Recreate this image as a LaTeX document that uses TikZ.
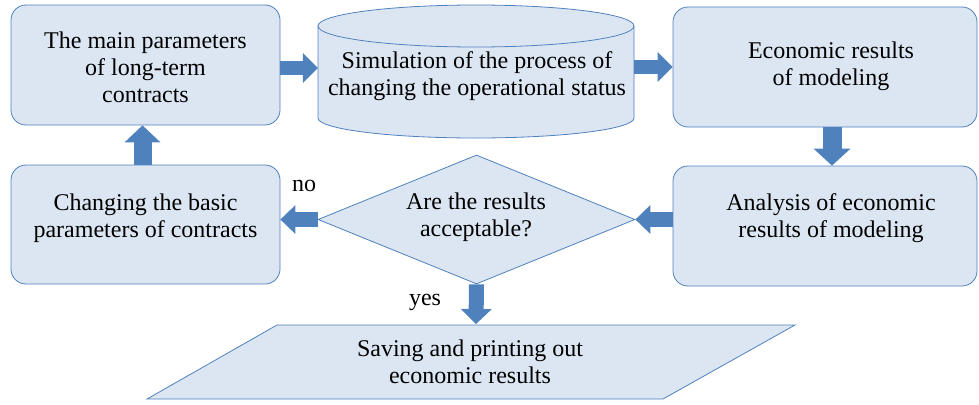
\documentclass[tikz,border=0pt]{standalone}
\usepackage{fontspec}
\setmainfont{Liberation Serif}
\usetikzlibrary{arrows.meta,calc,shapes.geometric}
\definecolor{boxfill}{HTML}{DCE6F2}
\definecolor{boxline}{HTML}{4F81BD}
\definecolor{arrowc}{HTML}{4F81BD}
\begin{document}
\begin{tikzpicture}[x=1pt,y=-1pt,
  box/.style={draw=boxline, fill=boxfill, rounded corners=15pt, line width=0.8pt, inner sep=0pt},
  txt/.style={align=center, font=\fontsize{24}{27}\selectfont, inner sep=0pt},
  blk/.style n args={3}{draw=arrowc, line width=#1, -{Triangle[width=#2,length=#3,line width=0pt]}}]
\useasboundingbox (0,0) rectangle (979,404);
% boxes
\node[box, minimum width=269pt, minimum height=120pt] (box1) at (145.5,65) {};
\node[txt] (t1) at (145.5,67) {The main parameters\\of long-term\\contracts};
\node[box, minimum width=304pt, minimum height=120pt] (box3) at (825,67) {};
\node[txt] (t3) at (831,66) {Economic results\\of modeling};
\node[box, minimum width=304pt, minimum height=120pt] (box4) at (825,226) {};
\node[txt] (t4) at (831,218) {Analysis of economic\\results of modeling};
\node[box, minimum width=269pt, minimum height=119pt] (chg) at (145.5,224.5) {};
\node[txt] (t5) at (145.5,218) {Changing the basic\\parameters of contracts};
% cylinder
\fill[boxfill] (318,26) -- (318,118) arc[start angle=180,end angle=0,x radius=158,y radius=20] -- (634,26) arc[start angle=0,end angle=-180,x radius=158,y radius=21] -- cycle;
\draw[boxline, line width=0.8pt] (476,26) ellipse[x radius=158,y radius=21];
\draw[boxline, line width=0.8pt] (318,26) -- (318,118) arc[start angle=180,end angle=0,x radius=158,y radius=20] -- (634,26);
\node[minimum width=316pt, minimum height=133pt, inner sep=0pt] (cyl) at (476,71.5) {};
\node[txt] (t2) at (477,76) {Simulation of the process of\\changing the operational status};
% diamond
\node[diamond, draw=boxline, fill=boxfill, line width=0.8pt, aspect=2.46, minimum width=317pt, minimum height=129pt, inner sep=0pt] (dia) at (476.5,219.5) {};
\node[txt] (t6) at (476,217) {Are the results\\acceptable?};
% parallelogram
\draw[boxline, fill=boxfill, line width=0.8pt] (277,325) -- (795,325) -- (663,399) -- (147,399) -- cycle;
\coordinate (partop) at (476,324);
\node[txt] (t7) at (470,362) {Saving and printing out\\economic results};
% labels
\node[txt] (no) at (304,186) {no};
\node[txt] (yes) at (425,302) {yes};
% block arrows
\draw[blk={13pt}{30pt}{15pt}] ($(box1.east)+(0,3)$) -- ($(box1.east -| cyl.west)+(0,3)$);
\draw[blk={13pt}{30pt}{15pt}] (box3.west -| cyl.east) -- (box3.west);
\draw[blk={19pt}{37pt}{17pt}] ($(box3.south)+(7,0)$) -- ($(box4.north)+(7,0)$);
\draw[blk={15pt}{29pt}{15pt}] (box4.west |- dia.east) -- (dia.east);
\draw[blk={15pt}{29pt}{15pt}] (dia.west) -- (dia.west -| chg.east);
\draw[blk={18pt}{36pt}{17pt}] ($(chg.north)+(-3,0)$) -- ($(box1.south)+(-3,0)$);
\draw[blk={15pt}{31pt}{15pt}] (dia.south) -- (partop);
\end{tikzpicture}
\end{document}
